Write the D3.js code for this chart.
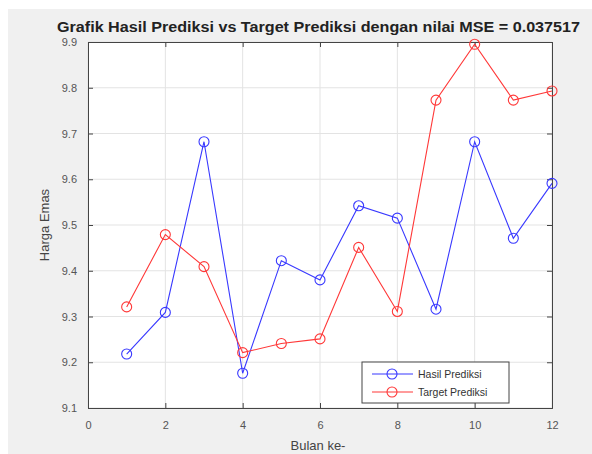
<!DOCTYPE html>
<html><head><meta charset="utf-8">
<script src="https://cdn.jsdelivr.net/npm/d3@7"></script>
<style>body{margin:0;background:#fff}svg{display:block}</style>
</head><body>
<script>
const months = [1,2,3,4,5,6,7,8,9,10,11,12];
const hasilPrediksi = [9.218,9.309,9.682,9.176,9.422,9.380,9.542,9.515,9.316,9.682,9.471,9.591];
const targetPrediksi = [9.321,9.479,9.409,9.221,9.241,9.251,9.451,9.311,9.773,9.895,9.773,9.793];
const xTicks = [0,2,4,6,8,10,12];
const yTicks = [9.1,9.2,9.3,9.4,9.5,9.6,9.7,9.8,9.9];
const seriesNames = ["Hasil Prediksi","Target Prediksi"];
const titleText = "Grafik Hasil Prediksi vs Target Prediksi dengan nilai MSE = 0.037517";

const W=592,H=454;
const m={l:88,r:552,t:42,b:408};
const svg=d3.select("body").append("svg").attr("width",W).attr("height",H);
svg.append("rect").attr("x",8).attr("y",9).attr("width",W-8).attr("height",H-9).attr("fill","#f0f0f0");
svg.append("rect").attr("x",m.l).attr("y",m.t).attr("width",m.r-m.l).attr("height",m.b-m.t).attr("fill","#fff");

const x=d3.scaleLinear().domain([0,12]).range([m.l,m.r]);
const y=d3.scaleLinear().domain([9.1,9.9]).range([m.b,m.t]);

// grid
svg.append("g").selectAll("line").data(xTicks).join("line")
 .attr("x1",d=>x(d)).attr("x2",d=>x(d)).attr("y1",m.t).attr("y2",m.b)
 .attr("stroke","#e3e3e3").attr("stroke-width",1);
svg.append("g").selectAll("line").data(yTicks).join("line")
 .attr("x1",m.l).attr("x2",m.r).attr("y1",d=>y(d)).attr("y2",d=>y(d))
 .attr("stroke","#e3e3e3").attr("stroke-width",1);

const tickFmt = d=>d3.format(".1f")(d);
const axB=d3.axisBottom(x).tickValues(xTicks).tickSize(-5).tickPadding(13);
const axT=d3.axisTop(x).tickValues(xTicks).tickSize(-5).tickFormat("");
const axL=d3.axisLeft(y).tickValues(yTicks).tickSize(-5).tickPadding(11).tickFormat(tickFmt);
const axR=d3.axisRight(y).tickValues(yTicks).tickSize(-5).tickFormat("");
function style(g){g.selectAll("path,line").attr("stroke","#444");g.selectAll("text").attr("fill","#555").attr("font-family","Liberation Sans, Arial, sans-serif").attr("font-size","11px");}
svg.append("g").attr("transform",`translate(0,${m.b})`).call(axB).call(style);
svg.append("g").attr("transform",`translate(0,${m.t})`).call(axT).call(style);
svg.append("g").attr("transform",`translate(${m.l},0)`).call(axL).call(style);
svg.append("g").attr("transform",`translate(${m.r},0)`).call(axR).call(style);

const line=d3.line().x((d,i)=>x(months[i])).y(d=>y(d));
const cols=["#3838ff","#ff3838"];
[hasilPrediksi,targetPrediksi].forEach((s,k)=>{
  svg.append("path").datum(s).attr("d",line).attr("fill","none").attr("stroke",cols[k]).attr("stroke-width",1.1);
  svg.append("g").selectAll("circle").data(s).join("circle")
   .attr("cx",(d,i)=>x(months[i])).attr("cy",d=>y(d)).attr("r",5)
   .attr("fill","none").attr("stroke",cols[k]).attr("stroke-width",1.1);
});

// title
svg.append("text").attr("x",318.5).attr("y",32).attr("text-anchor","middle")
 .attr("font-family","Liberation Sans, Arial, sans-serif").attr("font-weight","bold").attr("font-size","14px")
 .attr("fill","#222").attr("textLength",523).attr("lengthAdjust","spacingAndGlyphs").text(titleText);
// axis labels
svg.append("text").attr("x",318).attr("y",450).attr("text-anchor","middle")
 .attr("font-family","Liberation Sans, Arial, sans-serif").attr("font-size","13px").attr("fill","#444").text("Bulan ke-");
svg.append("text").attr("transform",`translate(49,${(m.t+m.b)/2}) rotate(-90)`).attr("text-anchor","middle")
 .attr("font-family","Liberation Sans, Arial, sans-serif").attr("font-size","13px").attr("fill","#444").text("Harga Emas");

// legend
const lg=svg.append("g");
lg.append("rect").attr("x",362).attr("y",362).attr("width",147).attr("height",41).attr("fill","#fff").attr("stroke","#444").attr("stroke-width",1);
seriesNames.forEach((n,k)=>{
  const ly=374+k*18;
  lg.append("line").attr("x1",372).attr("x2",413).attr("y1",ly).attr("y2",ly).attr("stroke",cols[k]).attr("stroke-width",1.1);
  lg.append("circle").attr("cx",392).attr("cy",ly).attr("r",5).attr("fill","none").attr("stroke",cols[k]).attr("stroke-width",1.1);
  lg.append("text").attr("x",418).attr("y",ly+4).attr("font-family","Liberation Sans, Arial, sans-serif").attr("font-size","10.5px").attr("fill","#333").text(n);
});
</script>
</body></html>
